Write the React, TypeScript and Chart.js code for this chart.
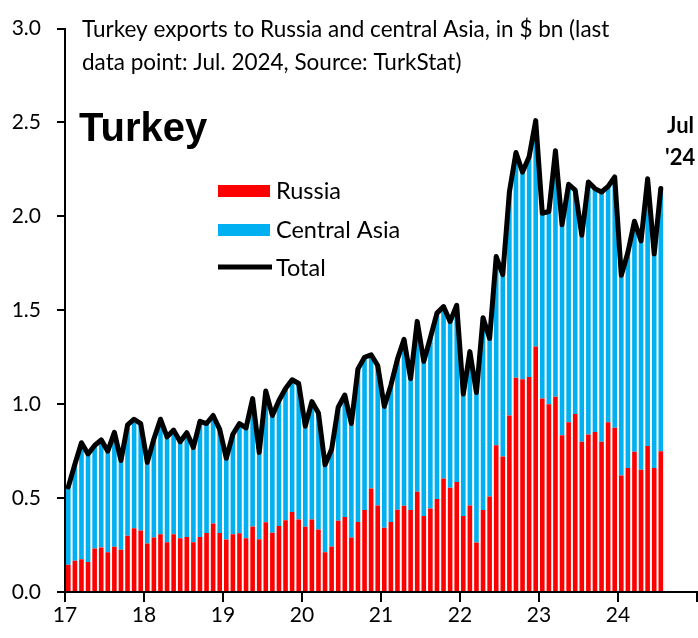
import React, { useEffect, useRef } from 'react';
import { Chart, registerables } from 'chart.js';

Chart.register(...registerables);

// Year tick labels (ticks sit at January of each year)
const yearLabels = ['17', '18', '19', '20', '21', '22', '23', '24'];

// Monthly values, Jan 2017 .. Jul 2024 ($ bn)
const russia = [
  0.145, 0.167, 0.174, 0.160, 0.232, 0.237, 0.211, 0.241, 0.225, 0.300, 0.340, 0.328,
  0.258, 0.290, 0.307, 0.265, 0.307, 0.286, 0.293, 0.265, 0.293, 0.314, 0.365, 0.314,
  0.279, 0.307, 0.313, 0.286, 0.349, 0.281, 0.372, 0.316, 0.352, 0.382, 0.426, 0.386,
  0.347, 0.386, 0.333, 0.211, 0.242, 0.380, 0.400, 0.290, 0.373, 0.436, 0.551, 0.460,
  0.342, 0.373, 0.438, 0.459, 0.436, 0.534, 0.405, 0.445, 0.495, 0.604, 0.555, 0.586,
  0.405, 0.461, 0.263, 0.436, 0.508, 0.782, 0.721, 0.940, 1.141, 1.133, 1.145, 1.307,
  1.031, 1.000, 1.040, 0.834, 0.904, 0.948, 0.800, 0.839, 0.852, 0.800, 0.904, 0.874,
  0.621, 0.660, 0.747, 0.651, 0.778, 0.660, 0.749,
];

const total = [
  0.56, 0.68, 0.795, 0.735, 0.78, 0.81, 0.75, 0.85, 0.70, 0.89, 0.92, 0.897,
  0.69, 0.815, 0.92, 0.826, 0.862, 0.80, 0.848, 0.77, 0.909, 0.897, 0.94, 0.866,
  0.712, 0.84, 0.897, 0.874, 1.03, 0.743, 1.07, 0.94, 1.02, 1.084, 1.13, 1.11,
  0.883, 1.014, 0.953, 0.677, 0.76, 0.984, 1.049, 0.897, 1.188, 1.25, 1.263, 1.206,
  0.988, 1.10, 1.24, 1.345, 1.136, 1.441, 1.228, 1.354, 1.485, 1.52, 1.44, 1.527,
  1.054, 1.28, 1.062, 1.46, 1.35, 1.786, 1.69, 2.13, 2.34, 2.236, 2.318, 2.51,
  2.017, 2.026, 2.349, 1.956, 2.171, 2.14, 1.90, 2.183, 2.148, 2.13, 2.16, 2.21,
  1.686, 1.808, 1.974, 1.869, 2.20, 1.80, 2.148,
];

const seriesNames = ['Russia', 'Central Asia', 'Total'];
const titleLines = [
  'Turkey exports to Russia and central Asia, in $ bn (last',
  'data point: Jul. 2024, Source: TurkStat)',
];
const countryLabel = 'Turkey';
const lastPointLabel = ['Jul', "'24"];

const RED = '#FF0000';
const BLUE = '#00B0F0';

export default function App() {
  const canvasRef = useRef<HTMLCanvasElement | null>(null);

  useEffect(() => {
    if (!canvasRef.current) return;
    const centralAsia = total.map((t, i) => t - russia[i]);

    const textPlugin = {
      id: 'annotText',
      afterDraw(chart: any) {
        const ctx = chart.ctx;
        ctx.save();
        ctx.fillStyle = '#000';
        ctx.textBaseline = 'alphabetic';
        ctx.textAlign = 'left';
        ctx.font = '22.5px Lato';
        ctx.fillText(titleLines[0], 82, 37);
        ctx.fillText(titleLines[1], 82, 70);

        ctx.font = 'bold 40px "Liberation Sans"';
        ctx.fillText(countryLabel, 79, 141);

        // legend
        ctx.fillStyle = RED;
        ctx.fillRect(218, 185, 52, 12);
        ctx.fillStyle = BLUE;
        ctx.fillRect(218, 224, 52, 12);
        ctx.strokeStyle = '#000';
        ctx.lineWidth = 5;
        ctx.beginPath();
        ctx.moveTo(218, 267);
        ctx.lineTo(272, 267);
        ctx.stroke();
        ctx.fillStyle = '#000';
        ctx.font = '23.5px Lato';
        ctx.fillText(seriesNames[0], 276, 199);
        ctx.fillText(seriesNames[1], 276, 238);
        ctx.fillText(seriesNames[2], 276, 276);

        ctx.font = 'bold 22px Lato';
        ctx.fillText(lastPointLabel[0], 667, 133);
        ctx.fillText(lastPointLabel[1], 665, 165);
        ctx.restore();
      },
    };

    const chart = new Chart(canvasRef.current, {
      type: 'bar',
      data: {
        datasets: [
          {
            type: 'bar',
            label: seriesNames[0],
            data: russia.map((v, i) => ({ x: i + 0.5, y: v })),
            backgroundColor: RED,
            borderWidth: 0,
            stack: 'bars',
            barPercentage: 0.7,
            categoryPercentage: 1,
            order: 1,
          },
          {
            type: 'bar',
            label: seriesNames[1],
            data: centralAsia.map((v, i) => ({ x: i + 0.5, y: v })),
            backgroundColor: BLUE,
            borderWidth: 0,
            stack: 'bars',
            barPercentage: 0.7,
            categoryPercentage: 1,
            order: 1,
          },
          {
            type: 'line',
            label: seriesNames[2],
            data: total.map((v, i) => ({ x: i + 0.5, y: v })),
            borderColor: '#000',
            borderWidth: 5,
            pointRadius: 0,
            tension: 0,
            borderJoinStyle: 'round',
            borderCapStyle: 'round',
            stack: 'line',
            order: 0,
          } as any,
        ],
      },
      options: {
        animation: false,
        responsive: true,
        maintainAspectRatio: false,
        layout: { padding: { top: 19, right: 1, left: 0, bottom: 0 } },
        plugins: {
          legend: { display: false },
          tooltip: { enabled: false },
          title: { display: false },
        },
        events: [],
        scales: {
          x: {
            type: 'linear',
            min: 0,
            max: 96,
            offset: false,
            border: { color: '#000', width: 2 },
            grid: {
              offset: false,
              drawOnChartArea: false,
              drawTicks: true,
              tickLength: 10,
              color: '#000',
              lineWidth: 2,
            },
            ticks: {
              stepSize: 12,
              autoSkip: false,
              maxRotation: 0,
              padding: 1,
              color: '#000',
              font: { family: 'Lato', size: 21 },
              callback: (v: any) => {
                const idx = Math.round(Number(v) / 12);
                return yearLabels[idx] ?? '';
              },
            },
            afterFit: (s: any) => {
              s.height = 46;
            },
          } as any,
          y: {
            type: 'linear',
            stacked: true,
            min: 0,
            max: 3,
            border: { color: '#000', width: 2 },
            grid: {
              drawOnChartArea: false,
              drawTicks: true,
              tickLength: 8,
              color: '#000',
              lineWidth: 2,
            },
            ticks: {
              stepSize: 0.5,
              padding: 16,
              color: '#000',
              font: { family: 'Lato', size: 21 },
              callback: (v: any) => Number(v).toFixed(1),
            },
            afterFit: (s: any) => {
              s.width = 65;
            },
          } as any,
        },
      },
      plugins: [textPlugin],
    });

    return () => chart.destroy();
  }, []);

  return (
    <div style={{ position: 'absolute', left: 0, top: 0, width: 698, height: 638, background: '#fff' }}>
      <canvas ref={canvasRef} />
    </div>
  );
}
